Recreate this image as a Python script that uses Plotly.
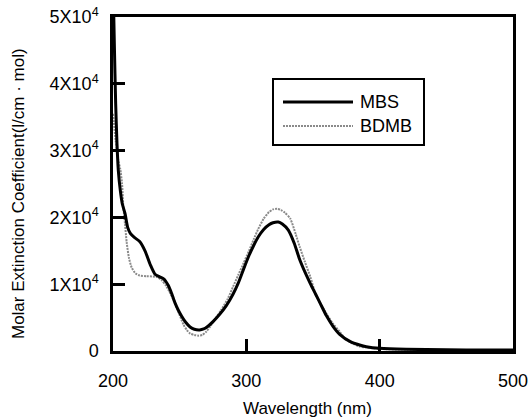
import plotly.graph_objects as go

# Wavelength (nm) and molar extinction coefficient readings
mbs_wl = [200, 201, 202, 203, 204, 205.5, 207, 209, 211, 213, 216, 220, 224, 228, 231.5, 235, 238,
          241.5, 244, 246.5, 249, 251.5, 254.5, 257.8, 261, 265, 268, 270.5, 275, 280, 285, 290,
          294, 298, 302, 305.5, 309, 313, 317, 320, 324, 327, 331.5, 336, 340, 344, 348, 352,
          355.5, 360, 365, 370, 378, 385, 390, 400, 420, 450, 480, 500]
mbs_val = [56000, 46000, 37000, 31000, 27000, 24000, 22000, 20600, 18500, 17600, 17000, 16400, 15000,
           12900, 11500, 11100, 10800, 9800, 8600, 7200, 6100, 5200, 4300, 3600, 3250, 3150, 3300,
           3600, 4400, 5500, 6800, 8500, 10200, 12300, 14300, 15800, 17100, 18200, 18900, 19200,
           19300, 19000, 18100, 16100, 13700, 11800, 10100, 8500, 7100, 5300, 3700, 2500, 1400,
           900, 650, 400, 250, 180, 150, 150]

bdmb_wl = [200, 202, 204, 205.5, 206.8, 207.8, 209, 210.3, 212, 214, 217, 220, 225, 230, 233,
           236.5, 240, 243, 245.5, 248, 250.5, 253, 255.5, 258, 261, 264, 267, 270, 273, 277, 281,
           286, 290, 294, 298, 302, 305.5, 309, 313, 317, 320, 323, 326, 329, 333, 337, 340, 344,
           348, 352.5, 356, 360, 365, 370, 375, 380, 385, 390, 395, 400, 420, 450, 480, 500]
bdmb_val = [35500, 31500, 28500, 27200, 25000, 21500, 19000, 16200, 13900, 12500, 11600, 11300, 11200,
            11150, 11050, 10600, 9700, 8600, 7600, 6400, 5100, 3900, 3100, 2600, 2400, 2300, 2400,
            2900, 3700, 4900, 6100, 7800, 9600, 11400, 13200, 15000, 16700, 18300, 19800, 20800,
            21200, 21300, 21100, 20700, 19800, 17500, 15600, 13300, 11100, 8200, 7000, 5600, 4100,
            2900, 1650, 1100, 650, 550, 400, 300, 200, 150, 150, 150]

x_ticks = [200, 300, 400, 500]
x_tick_text = ["200", "300", "400", "500"]
y_ticks = [0, 10000, 20000, 30000, 40000, 50000]
y_tick_text = ["0", "1X10<sup>4</sup>", "2X10<sup>4</sup>", "3X10<sup>4</sup>",
               "4X10<sup>4</sup>", "5X10<sup>4</sup>"]
series_names = ["MBS", "BDMB"]

FONT = "Liberation Sans, Arial, Helvetica, sans-serif"
BD_COLOR = "#8a8a8a"
BD_DASH = "2px,1px"

fig = go.Figure()
fig.add_trace(go.Scatter(x=bdmb_wl, y=bdmb_val, mode="lines", name=series_names[1],
                         line=dict(color=BD_COLOR, width=2, dash=BD_DASH, shape="spline", smoothing=0.6),
                         showlegend=False))
fig.add_trace(go.Scatter(x=mbs_wl, y=mbs_val, mode="lines", name=series_names[0],
                         line=dict(color="black", width=3, shape="spline", smoothing=0.6),
                         showlegend=False))

axis_common = dict(showgrid=False, zeroline=False, showline=True, linecolor="black", linewidth=2.5,
                   mirror=True, ticks="inside", ticklen=12, tickwidth=2.5, tickcolor="black",
                   automargin=False, ticklabeloverflow="allow",
                   tickfont=dict(family=FONT, size=18, color="black"))

fig.update_xaxes(range=[200, 500], tickmode="array", tickvals=x_ticks, ticktext=x_tick_text,
                 ticklabelstandoff=12, **axis_common)
fig.update_yaxes(range=[0, 50000], tickmode="array", tickvals=y_ticks, ticktext=y_tick_text,
                 ticklabelstandoff=8, **axis_common)

# Axis titles and hand-drawn legend
annotations = [
    dict(text="Wavelength (nm)", x=0.485, y=-0.172, xref="paper", yref="paper",
         xanchor="center", yanchor="middle", showarrow=False,
         font=dict(family=FONT, size=17, color="black")),
    dict(text="Molar Extinction Coefficient(l/cm · mol)", x=-0.2375, y=0.47, xref="paper", yref="paper",
         xanchor="center", yanchor="middle", showarrow=False, textangle=-90,
         font=dict(family=FONT, size=17, color="black")),
    dict(text=series_names[0], x=0.6125, y=0.7455, xref="paper", yref="paper",
         xanchor="left", yanchor="middle", showarrow=False,
         font=dict(family=FONT, size=18, color="black")),
    dict(text=series_names[1], x=0.6125, y=0.6737, xref="paper", yref="paper",
         xanchor="left", yanchor="middle", showarrow=False,
         font=dict(family=FONT, size=18, color="black")),
]

shapes = [
    dict(type="rect", xref="paper", yref="paper", x0=0.4, x1=0.7775, y0=0.6168, y1=0.8144,
         line=dict(color="black", width=2), fillcolor="white", layer="above"),
    dict(type="line", xref="paper", yref="paper", x0=0.425, x1=0.6, y0=0.7455, y1=0.7455,
         line=dict(color="black", width=3), layer="above"),
    dict(type="line", xref="paper", yref="paper", x0=0.425, x1=0.6, y0=0.6737, y1=0.6737,
         line=dict(color=BD_COLOR, width=2, dash=BD_DASH), layer="above"),
]

fig.update_layout(width=531, height=418, margin=dict(l=113, r=18, t=17, b=67),
                  paper_bgcolor="white", plot_bgcolor="white",
                  annotations=annotations, shapes=shapes, showlegend=False)

# Remove the default page margin so the figure sits at the window's top-left corner
fig.write_html("out.html", config={"displayModeBar": False},
               post_script="document.body.style.margin='0px';")
